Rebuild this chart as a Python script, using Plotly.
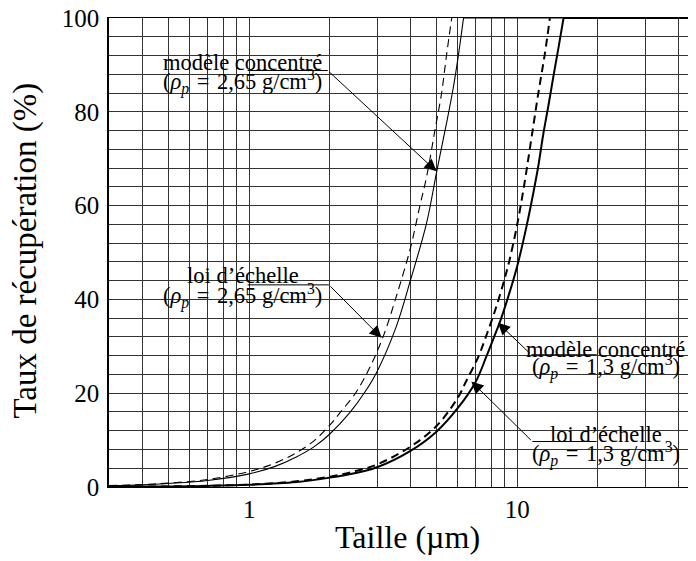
import math
import plotly.graph_objects as go

# ---------------- data ----------------
# modèle concentré, rho_p = 2,65 g/cm3 (thin solid); last point = flat plateau end
mc265_x = [0.3, 0.4, 0.5, 0.7, 1.0, 1.25, 1.5, 1.75, 2.0, 2.37, 2.7, 3.0, 3.54, 4.0, 4.59, 5.0, 5.44, 5.76, 6.01, 6.31, 46.5]
mc265_y = [0.25, 0.45, 0.75, 1.4, 2.8, 4.4, 6.4, 8.6, 11.3, 15.8, 20.2, 24.6, 34.2, 44.1, 56.2, 67.0, 77.3, 84.7, 91.3, 100, 100]

# loi d'échelle, rho_p = 2,65 g/cm3 (thin dashed)
le265_x = [0.3, 0.4, 0.5, 0.7, 1.0, 1.25, 1.5, 1.75, 2.0, 2.18, 2.5, 2.81, 3.16, 3.54, 4.0, 4.33, 4.6, 4.95, 5.22, 5.45, 5.7]
le265_y = [0.3, 0.52, 0.83, 1.6, 3.3, 5.1, 7.3, 9.9, 13.2, 15.8, 20.1, 25.3, 32.0, 40.6, 51.0, 59.8, 66.3, 76.5, 83.8, 92.0, 100]

# modèle concentré, rho_p = 1,3 g/cm3 (thick solid); last point = flat plateau end
mc13_x = [0.3, 0.5, 0.7, 1.0, 1.5, 2.0, 2.5, 3.0, 4.0, 5.0, 6.0, 7.0, 7.7, 8.18, 8.7, 9.5, 10.1, 10.88, 11.5, 12.0, 12.5, 13.1, 13.7, 14.3, 14.9, 46.5]
mc13_y = [0.04, 0.12, 0.23, 0.47, 1.06, 2.0, 3.0, 4.2, 7.7, 11.8, 16.8, 22.4, 28.0, 31.8, 35.8, 42.6, 48.0, 56.0, 62.8, 68.5, 75.0, 81.5, 88.0, 94.0, 100, 100]

# loi d'échelle, rho_p = 1,3 g/cm3 (thick dashed)
le13_x = [0.3, 0.5, 0.7, 1.0, 1.5, 2.0, 2.5, 3.0, 4.0, 5.0, 6.0, 6.46, 7.17, 7.6, 8.07, 8.4, 8.9, 9.35, 9.97, 10.6, 11.2, 12.0, 12.7, 13.25]
le13_y = [0.05, 0.13, 0.26, 0.52, 1.2, 2.2, 3.4, 4.8, 8.6, 13.0, 19.0, 22.6, 27.8, 31.6, 35.8, 38.8, 43.6, 48.2, 55.5, 64.0, 72.8, 84.0, 92.5, 100]

# tick labels
x_tickvals = [0.3, 0.4, 0.5, 0.6, 0.7, 0.8, 0.9, 1, 2, 3, 4, 5, 6, 7, 8, 9, 10, 20, 30, 40]
x_ticktext = ["1" if v == 1 else "10" if v == 10 else "" for v in x_tickvals]
y_tickvals = list(range(0, 101, 4))
y_ticktext = [str(v) if v % 20 == 0 else "" for v in y_tickvals]

x_title = "Taille (µm)"
y_title = "Taux de récupération (%)"

# callout labels: (line1, line2)
EQ = "\u2004=\u2004"
labels = [
    ("modèle concentré", "(<i>ρ<sub>p</sub></i>" + EQ + "2,65 g/cm<sup>3</sup>)"),
    ("loi d’échelle", "(<i>ρ<sub>p</sub></i>" + EQ + "2,65 g/cm<sup>3</sup>)"),
    ("modèle concentré", "(<i>ρ<sub>p</sub></i>" + EQ + "1,3 g/cm<sup>3</sup>)"),
    ("loi d’échelle", "(<i>ρ<sub>p</sub></i>" + EQ + "1,3 g/cm<sup>3</sup>)"),
]
# label placement (data coords): text centre x, line1 y, line2 y
label_pos = [(0.946, 90.6, 86.3), (0.946, 45.0, 40.7), (21.4, 29.4, 25.5), (21.4, 11.3, 7.0)]
# leader: horizontal segment x0, x1, y ; arrow tip x, y
leaders = [
    (0.987, 1.965, 88.8, 5.0, 67.3),
    (0.987, 1.985, 43.1, 3.12, 31.8),
    (19.8, 11.3, 28.2, 8.48, 35.0),
    (19.8, 11.4, 9.7, 6.75, 22.5),
]

FONT = "Liberation Serif"

fig = go.Figure()


def add_curve(xs, ys, width, dash=None, plateau=False):
    cx, cy = (xs[:-1], ys[:-1]) if plateau else (xs, ys)
    fig.add_trace(go.Scatter(x=cx, y=cy, mode="lines",
                             line=dict(color="black", width=width, dash=dash,
                                       shape="spline", smoothing=1.0)))
    if plateau:
        fig.add_trace(go.Scatter(x=xs[-2:], y=ys[-2:], mode="lines",
                                 line=dict(color="black", width=width, dash=dash)))


add_curve(mc265_x, mc265_y, 1.1, plateau=True)
add_curve(le265_x, le265_y, 1.1, dash="8px,5px")
add_curve(mc13_x, mc13_y, 2, plateau=True)
add_curve(le13_x, le13_y, 2, dash="8px,5px")

for (l1, l2), (cx, y1, y2) in zip(labels, label_pos):
    for txt, yy in ((l1, y1), (l2, y2)):
        fig.add_annotation(x=math.log10(cx), y=yy, text=txt, showarrow=False,
                           xanchor="center", yanchor="middle",
                           font=dict(family=FONT, size=22.5, color="black"))

for (hx0, hx1, hy, tx, ty) in leaders:
    fig.add_shape(type="line", xref="x", yref="y", x0=hx0, x1=hx1, y0=hy, y1=hy,
                  line=dict(color="black", width=1))
    fig.add_annotation(x=math.log10(tx), y=ty, ax=math.log10(hx1), ay=hy,
                       axref="x", ayref="y", xref="x", yref="y", text="",
                       showarrow=True, arrowhead=2, arrowsize=2.4, arrowwidth=1,
                       arrowcolor="black", standoff=0)

# axis titles
fig.add_annotation(xref="paper", yref="paper", x=0.509, y=-0.106, text=x_title,
                   showarrow=False, xanchor="center", yanchor="middle",
                   font=dict(family=FONT, size=32, color="black"))
fig.add_annotation(xref="paper", yref="paper", x=-0.1414, y=0.504, text=y_title,
                   textangle=-90, showarrow=False, xanchor="center", yanchor="middle",
                   font=dict(family=FONT, size=33, color="black"))

fig.update_xaxes(type="log", range=[math.log10(0.3), math.log10(0.3) + 587 / 268],
                 tickvals=x_tickvals, ticktext=x_ticktext, ticks="",
                 showgrid=True, gridcolor="#333", gridwidth=1,
                 showline=True, mirror=True, linecolor="black", linewidth=1.2,
                 tickfont=dict(family=FONT, size=25, color="black"),
                 ticklabelstandoff=0, ticklabeloverflow="allow",
                 zeroline=False, automargin=False)
fig.update_yaxes(range=[0, 100], tickvals=y_tickvals, ticktext=y_ticktext, ticks="",
                 showgrid=True, gridcolor="#333", gridwidth=1,
                 showline=True, linecolor="black", linewidth=1.5,
                 tickfont=dict(family=FONT, size=25, color="black"),
                 ticklabelstandoff=3, ticklabeloverflow="allow",
                 zeroline=False, automargin=False)

# page body has an 8px margin: compensate so the plot area lands where the reference has it
fig.update_layout(width=696, height=561, showlegend=False,
                  font=dict(family=FONT, color="black"),
                  margin=dict(l=101, r=8, t=10, b=82, pad=0),
                  plot_bgcolor="white", paper_bgcolor="white")

fig.write_html("out.html")
